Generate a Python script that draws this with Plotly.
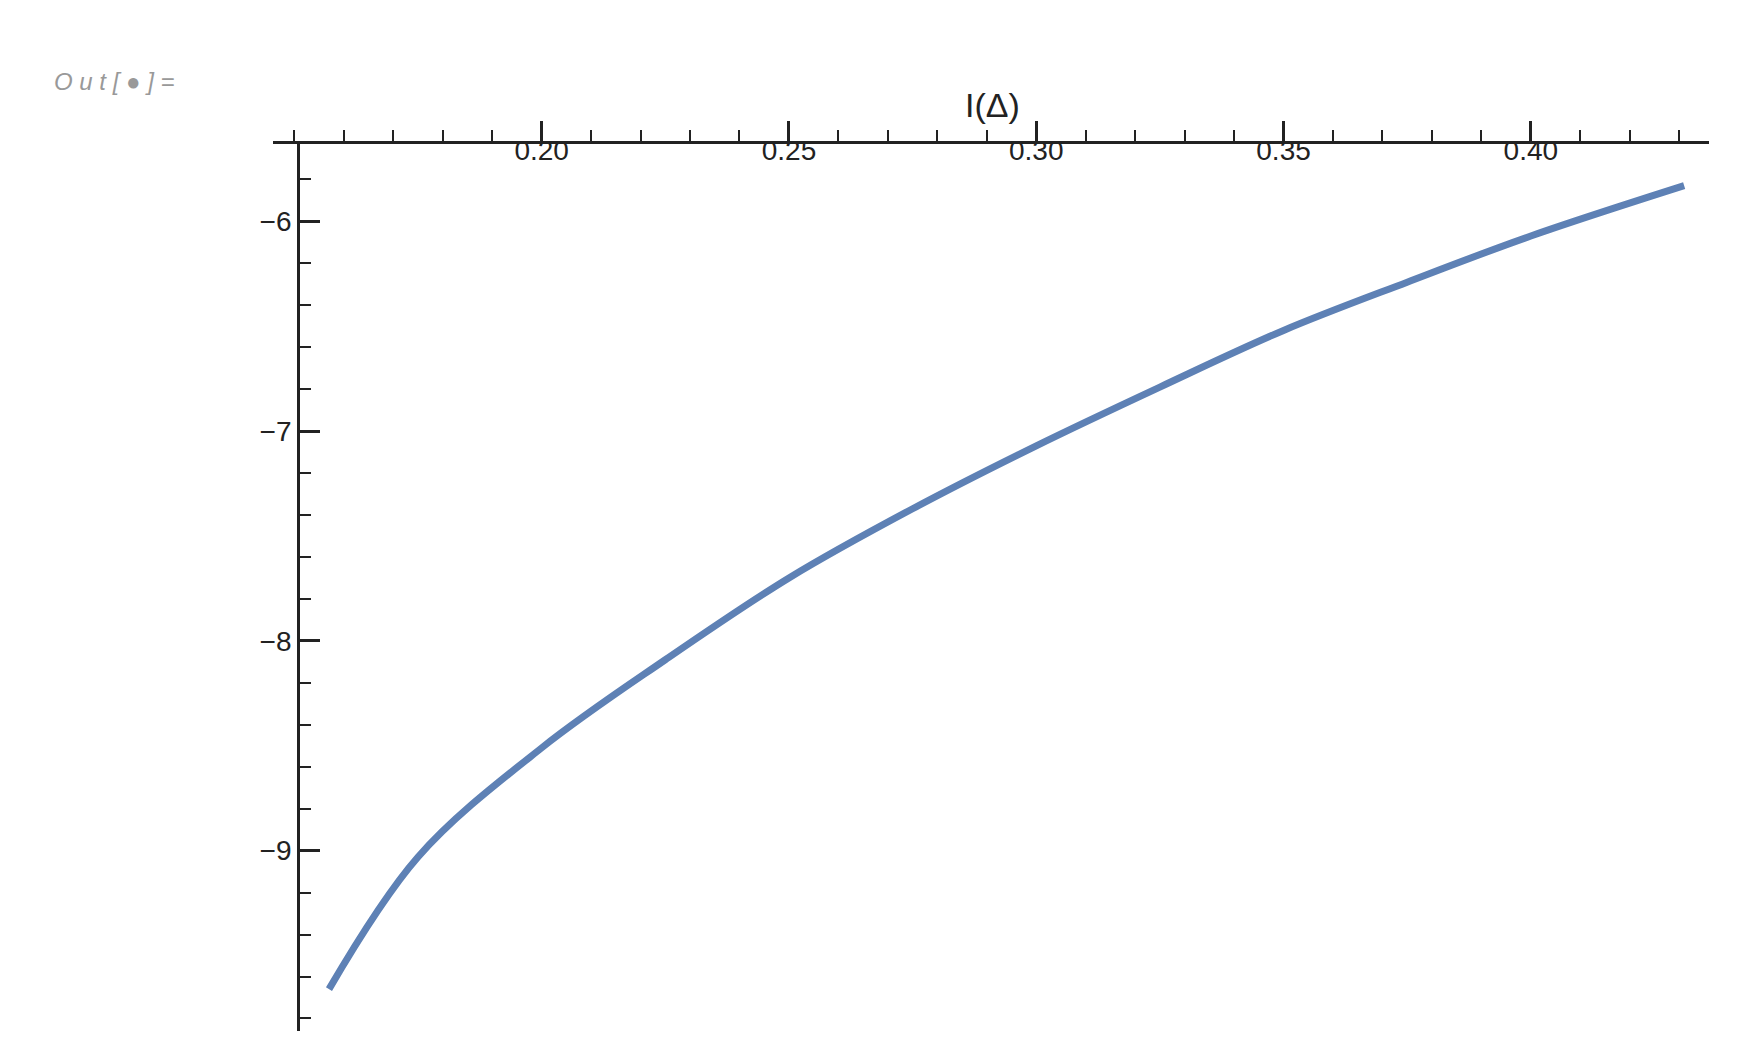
import plotly.graph_objects as go

x_vals = [0.157, 0.175, 0.20, 0.225, 0.25, 0.275, 0.30, 0.325, 0.35, 0.375, 0.40, 0.431]
y_vals = [-9.66, -9.03, -8.51, -8.09, -7.70, -7.37, -7.07, -6.79, -6.52, -6.29, -6.07, -5.83]
x_ticks = [0.20, 0.25, 0.30, 0.35, 0.40]
x_labels = ["0.20", "0.25", "0.30", "0.35", "0.40"]
y_ticks = [-6, -7, -8, -9]
y_labels = ["−6", "−7", "−8", "−9"]

xr = [0.1456, 0.436]
xd = [0.1519, 0.9764]
ypos = xd[0] + (0.1507 - xr[0]) / (xr[1] - xr[0]) * (xd[1] - xd[0])

fig = go.Figure(go.Scatter(x=x_vals, y=y_vals, mode="lines", line=dict(color="rgb(94,129,181)", width=7, shape="spline")))
font = dict(family="Liberation Sans, Arial", size=28, color="#222")
fig.update_layout(
    width=1742, height=1052, autosize=False, margin=dict(l=0, r=0, t=0, b=0),
    plot_bgcolor="white", paper_bgcolor="white", showlegend=False,
    xaxis=dict(domain=xd, range=xr, side="top", showgrid=False, zeroline=False,
               showline=True, linecolor="#222", linewidth=2.5,
               tickvals=x_ticks, ticktext=x_labels, ticks="outside", ticklen=20, tickwidth=2.5, tickcolor="#222",
               ticklabelposition="inside", tickfont=font,
               minor=dict(dtick=0.01, tick0=0.15, ticks="outside", ticklen=11, tickwidth=2, tickcolor="#222")),
    yaxis=dict(domain=[0.0275, 0.871], range=[-9.86, -5.63], anchor="free", position=ypos,
               showgrid=False, zeroline=False, showline=True, linecolor="#222", linewidth=2.5,
               tickvals=y_ticks, ticktext=y_labels, ticks="inside", ticklen=20, tickwidth=2.5, tickcolor="#222",
               tickfont=font,
               minor=dict(dtick=0.2, tick0=-6, ticks="inside", ticklen=11, tickwidth=2, tickcolor="#222")),
)
fig.add_annotation(text="I(Δ)", xref="paper", yref="paper", x=0.565, y=0.888, showarrow=False,
                   font=dict(family="Liberation Sans, Arial", size=34, color="#222"), yanchor="bottom")
fig.add_annotation(text="<i>O u t [ ● ] =</i>", xref="paper", yref="paper", x=0.025, y=0.945, showarrow=False,
                   xanchor="left", font=dict(family="Liberation Sans, Arial", size=24, color="#999"))
fig.write_html("out.html")
